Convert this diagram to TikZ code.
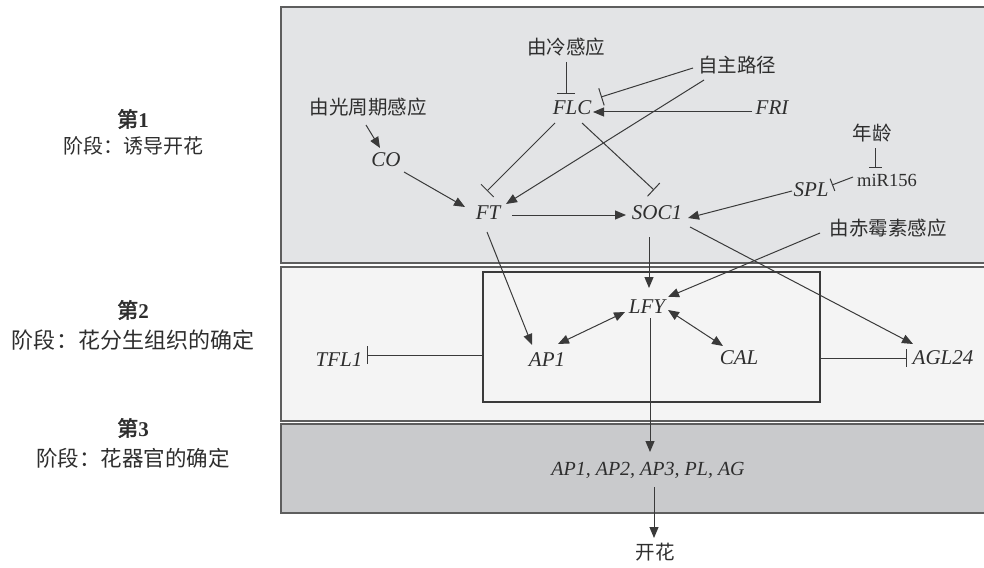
\documentclass[tikz,border=0pt]{standalone}
\usepackage{fontspec}
\setmainfont{Liberation Serif}
\newfontfamily\cjk{Noto Sans CJK SC}
\newfontfamily\cjkb[FakeBold=2.5]{Noto Sans CJK SC}
\usetikzlibrary{arrows.meta,calc}
\definecolor{lc}{HTML}{3A3A3A}
\definecolor{tc}{HTML}{2E2E2E}
\definecolor{bc}{HTML}{5E5E5E}
\definecolor{pone}{HTML}{E3E4E6}
\definecolor{ptwo}{HTML}{F4F4F4}
\definecolor{pthree}{HTML}{C9CACC}
\begin{document}
\begin{tikzpicture}[x=1pt,y=-1pt,
  every node/.style={inner sep=0pt,text=tc},
  gene/.style={font=\fontsize{21}{24}\selectfont\itshape},
  zh/.style={font=\fontsize{19.5}{22}\selectfont\cjk},
  conn/.style={draw=lc,line width=1pt},
  act/.style={conn,-{Triangle[length=11pt,width=9pt]}},
  dact/.style={conn,{Triangle[length=11pt,width=9pt]}-{Triangle[length=11pt,width=9pt]}},
  inh/.style={conn,-{Bar[width=18pt,line width=1pt]}},
  inhs/.style={conn,-{Bar[width=13pt,line width=1pt]}},
  panel/.style={draw=bc,line width=1.6pt}]
\useasboundingbox (0,0) rectangle (984,567);
% panels
\path[panel,fill=pone] (281,7) rectangle (1000,263);
\path[panel,fill=ptwo] (281,267) rectangle (1000,421);
\path[panel,fill=pthree] (281,424) rectangle (1000,513);
\node[draw=lc,line width=1.5pt,minimum width=337pt,minimum height=130pt] (box) at (651.5,337) {};
% stage labels
\node[font=\fontsize{21}{24}\selectfont] (s1a) at (133,119) {{\cjkb 第}\textbf{1}};
\node[font=\fontsize{20}{24}\selectfont\cjk] (s1b) at (133,146) {阶段：诱导开花};
\node[font=\fontsize{21}{24}\selectfont] (s2a) at (133,310) {{\cjkb 第}\textbf{2}};
\node[font=\fontsize{22}{24}\selectfont\cjk] (s2b) at (133,340) {阶段：花分生组织的确定};
\node[font=\fontsize{21}{24}\selectfont] (s3a) at (133,428) {{\cjkb 第}\textbf{3}};
\node[font=\fontsize{21.5}{24}\selectfont\cjk] (s3b) at (133,458) {阶段：花器官的确定};
% stage 1 nodes
\node[zh] (cold) at (566,47) {由冷感应};
\node[gene] (FLC) at (572,108) {FLC};
\node[zh] (photo) at (368,107) {由光周期感应};
\node[gene] (CO) at (386,160) {CO};
\node[zh] (auto) at (737,65) {自主路径};
\node[gene] (FRI) at (772,108) {FRI};
\node[zh] (age) at (872,133) {年龄};
\node[font=\fontsize{18.5}{22}\selectfont] (mir) at (887,180) {miR156};
\node[gene] (SPL) at (811,190) {SPL};
\node[gene] (FT) at (488,213) {FT};
\node[gene] (SOC) at (657,213) {SOC1};
\node[zh] (GA) at (888,228) {由赤霉素感应};
% stage 2 nodes
\node[gene] (LFY) at (647,307) {LFY};
\node[gene] (AP1) at (547,360) {AP1};
\node[gene] (TFL) at (339,360) {TFL1};
\node[gene] (CAL) at (739,358) {CAL};
\node[gene] (AGL) at (943,358) {AGL24};
% stage 3 nodes
\node[gene,font=\fontsize{20}{24}\selectfont\itshape] (genes) at (648,470) {AP1, AP2, AP3, PL, AG};
\node[zh] (flower) at (655,552) {开花};
% connectors
\draw[inh] ($(cold)+(0,15)$) -- ($(FLC)+(-6,-14)$);
\draw[inh] ($(auto)+(-44,3)$) -- ($(FLC)+(29,-11)$);
\draw[act] ($(FRI)+(-20,4)$) -- ($(FLC)+(21,4)$);
\draw[act] ($(auto)+(-33,15)$) -- ($(FT)+(18,-9)$);
\draw[inh] ($(FLC)+(-17,15)$) -- ($(FT)+(-1,-22)$);
\draw[inh] ($(FLC)+(10,15)$) -- ($(SOC)+(-3,-23)$);
\draw[act] ($(CO)+(18,12)$) -- ($(FT)+(-23,-6)$);
\draw[act] ($(photo)+(-2,18)$) -- ($(CO)+(-6,-12)$);
\draw[act] ($(FT)+(24,2)$) -- ($(SOC)+(-31,2)$);
\draw[inhs] ($(age)+(3,15)$) -- ($(mir)+(-12,-12)$);
\draw[inhs] ($(mir)+(-34,-3)$) -- ($(SPL)+(21,-5)$);
\draw[act] ($(SPL)+(-19,1)$) -- ($(SOC)+(31,5)$);
\draw[act] ($(GA)+(-68,5)$) -- ($(LFY)+(21,-10)$);
\draw[act] ($(SOC)+(33,14)$) -- ($(AGL)+(-30,-14)$);
\draw[act] ($(SOC)+(-8,24)$) -- ($(LFY)+(2,-19)$);
\draw[act] ($(FT)+(-1,19)$) -- ($(AP1)+(-15,-15)$);
\draw[dact] ($(AP1)+(11,-16)$) -- ($(LFY)+(-22,5)$);
\draw[dact] ($(LFY)+(21,3)$) -- ($(CAL)+(-16,-12)$);
\draw[inh] ($(box.west)+(0,18)$) -- ($(TFL)+(28,-5)$);
\draw[inh] ($(box.east)+(0,21)$) -- ($(AGL)+(-36,0)$);
\draw[act] ($(LFY)+(3,11)$) -- ($(genes)+(2,-18)$);
\draw[act] ($(genes)+(6,17)$) -- ($(flower)+(-1,-14)$);
\end{tikzpicture}
\end{document}
